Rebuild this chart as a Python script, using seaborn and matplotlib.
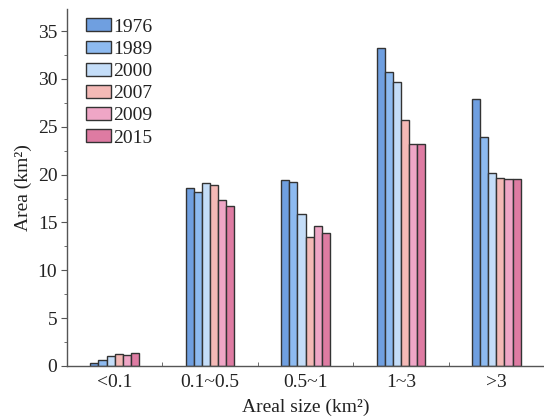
import matplotlib
matplotlib.use("Agg")
import matplotlib.pyplot as plt
import seaborn as sns
import pandas as pd
from matplotlib.ticker import MultipleLocator

categories = ["<0.1", "0.1~0.5", "0.5~1", "1~3", ">3"]
years = ["1976", "1989", "2000", "2007", "2009", "2015"]
v1976 = [0.3, 18.6, 19.4, 33.2, 27.9]
v1989 = [0.6, 18.2, 19.2, 30.7, 23.9]
v2000 = [1.0, 19.1, 15.9, 29.7, 20.2]
v2007 = [1.3, 18.9, 13.5, 25.7, 19.6]
v2009 = [1.1, 17.3, 14.6, 23.2, 19.5]
v2015 = [1.4, 16.7, 13.9, 23.2, 19.5]
colors = ["#6f9fe0", "#8dbaf0", "#c4ddf8", "#f4b9b6", "#efa6c6", "#de7ba2"]

series = [v1976, v1989, v2000, v2007, v2009, v2015]
rows = []
for y, vals in zip(years, series):
    for c, v in zip(categories, vals):
        rows.append({"cat": c, "year": y, "area": v})
df = pd.DataFrame(rows)

sns.set_style("ticks")
plt.rcParams["font.family"] = ["Liberation Serif", "DejaVu Serif"]

fs = 14
fig = plt.figure(figsize=(5.44, 4.2), dpi=100)
ax = fig.add_axes([67/544, 1-366/420, (544-67)/544, (366-9)/420])
sns.barplot(data=df, x="cat", y="area", hue="year", order=categories,
            hue_order=years, palette=colors, saturation=1, width=0.51, gap=0,
            edgecolor="#333333", linewidth=1.0, ax=ax)

ax.set_xlim(-0.5, 4.5)
ax.set_ylim(0, 37.3)
ax.yaxis.set_major_locator(MultipleLocator(5))
ax.yaxis.set_minor_locator(MultipleLocator(2.5))
ax.set_xticks([0.5, 1.5, 2.5, 3.5], minor=True)
ax.tick_params(axis="x", which="major", length=0, labelsize=fs, pad=6, colors="#222222")
ax.tick_params(axis="x", which="minor", length=3, direction="in", color="#555555")
ax.tick_params(axis="y", which="major", length=4, labelsize=fs, pad=3, color="#555555", labelcolor="#222222")
ax.tick_params(axis="y", which="minor", length=2.5, color="#555555")
for s in ["top", "right"]:
    ax.spines[s].set_visible(False)
for s in ["left", "bottom"]:
    ax.spines[s].set_color("#555555")
    ax.spines[s].set_linewidth(1.0)

ax.set_xlabel("Areal size (km²)", fontsize=fs, labelpad=5, color="#222222")
ax.set_ylabel("Area (km²)", fontsize=fs, labelpad=4, color="#222222")

leg = ax.legend(loc="upper left", bbox_to_anchor=(0.012, 1.012), frameon=False,
                fontsize=fs, handlelength=1.25, handleheight=0.65,
                handletextpad=0.12, labelspacing=0.25, borderaxespad=0.3)
for t in leg.get_texts():
    t.set_color("#222222")

fig.savefig("out.png", dpi=100)
